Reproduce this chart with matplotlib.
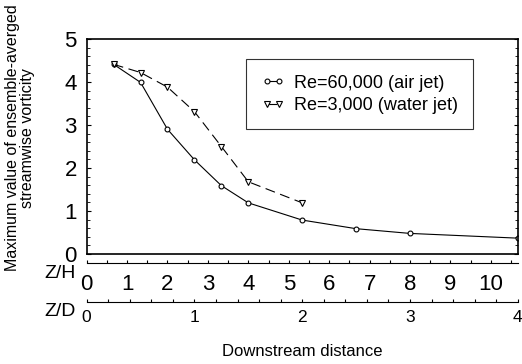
import matplotlib.pyplot as plt
from matplotlib.ticker import MultipleLocator

plt.rcParams["font.family"] = ["Liberation Sans", "DejaVu Sans"]

# Downstream distance in Z/D, Z/H = Z/D * 8/3
ZH_PER_ZD = 8 / 3

air_zd = [0.25, 0.5, 0.75, 1.0, 1.25, 1.5, 2.0, 2.5, 3.0, 4.0]
air_vort = [4.41, 3.99, 2.90, 2.19, 1.59, 1.19, 0.79, 0.59, 0.48, 0.37]

water_zd = [0.25, 0.5, 0.75, 1.0, 1.25, 1.5, 2.0]
water_vort = [4.41, 4.22, 3.88, 3.31, 2.50, 1.68, 1.19]

labels = ["Re=60,000 (air jet)", "Re=3,000 (water jet)"]

fig = plt.figure(figsize=(5.22, 3.64), dpi=100)
ax = fig.add_axes([0.166, 0.302, 0.826, 0.591])

ax.plot(air_zd, air_vort, "-", color="black", lw=0.8, marker="o", ms=3.5,
        mfc="white", mec="black", mew=0.8, label=labels[0])
ax.plot(water_zd, water_vort, color="black", lw=0.8, ls=(0, (9, 5)), marker="v",
        ms=4, mfc="white", mec="black", mew=0.8, label=labels[1])

ax.set_xlim(0, 4)
ax.set_ylim(0, 5)
ax.set_xticks([])
ax.yaxis.set_major_locator(MultipleLocator(1))
ax.yaxis.set_minor_locator(MultipleLocator(0.2))
ax.tick_params(axis="y", which="both", direction="in", right=True, labelsize=16)
ax.tick_params(axis="y", which="major", length=3, pad=7)
ax.tick_params(axis="y", which="minor", length=2)
for s in ax.spines.values():
    s.set_linewidth(1.2)

leg = ax.legend(loc="upper right", bbox_to_anchor=(0.896, 0.905), fontsize=13,
                frameon=True, fancybox=False, edgecolor="black", handlelength=1.3,
                numpoints=2, borderpad=0.85, labelspacing=0.3, handletextpad=0.5,
                borderaxespad=0)
leg.get_frame().set_linewidth(0.8)

fig.text(20 / 522, 1 - 138 / 364,
         "Maximum value of ensemble-averged\nstreamwise vorticity",
         fontsize=11.5, rotation=90, ha="center", va="center", linespacing=1.05,
         multialignment="center")


def distance_axis(y, xmax, major, minor, size, pad, name, name_y):
    a = fig.add_axes([0.166, y, 0.826, 0.001])
    a.set_xlim(0, xmax)
    a.set_yticks([])
    for side in ["top", "left", "right"]:
        a.spines[side].set_visible(False)
    a.spines["bottom"].set_linewidth(0.8)
    a.xaxis.set_major_locator(MultipleLocator(major))
    a.xaxis.set_minor_locator(MultipleLocator(minor))
    a.tick_params(axis="x", which="both", direction="in", length=2.5,
                  width=0.8, labelsize=size, pad=pad)
    fig.text(0.145, name_y, name, fontsize=14, ha="right", va="center")
    return a


ax_zh = distance_axis(1 - 263 / 364, 4 * ZH_PER_ZD, 1, 0.5, 16, 8,
                      "Z/H", 1 - 274 / 364)
ax_zd = distance_axis(1 - 302 / 364, 4, 1, 0.2, 12.5, 6, "Z/D", 1 - 312 / 364)

fig.text(0.579, 1 - 352 / 364, "Downstream distance", fontsize=12,
         ha="center", va="center")

fig.savefig("out.png", dpi=100)
